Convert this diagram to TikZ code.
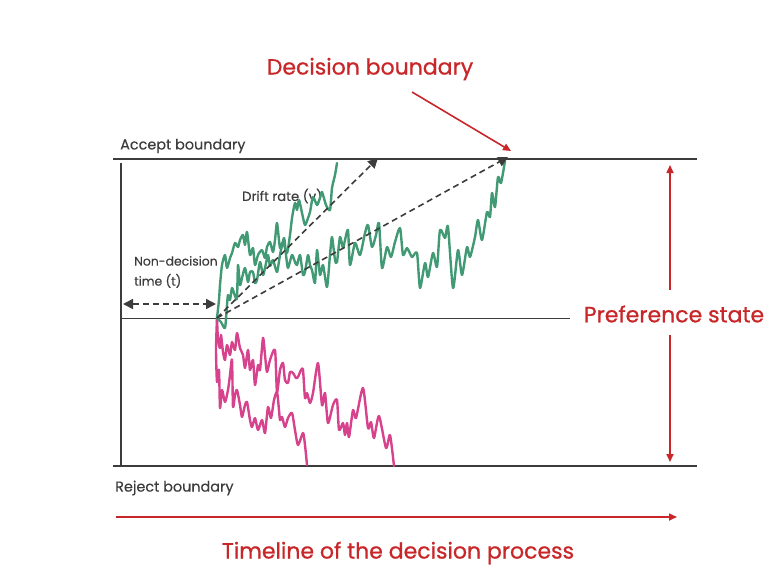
\documentclass[tikz,border=0pt]{standalone}
\usepackage{fontspec}
\setmainfont{Poppins}
\newfontfamily\headfont{Poppins}[FakeBold=0.8]
\newfontfamily\labelfont{Poppins}[FakeBold=0.3]
\usetikzlibrary{arrows.meta}
\definecolor{boundgray}{RGB}{60,60,60}
\definecolor{walkgreen}{RGB}{66,154,116}
\definecolor{walkpink}{RGB}{214,66,140}
\definecolor{notered}{RGB}{200,38,40}
\tikzset{
  boundary/.style={line width=2.2pt, draw=boundgray},
  walk/.style={line width=2.4pt, line join=round, line cap=round},
  drift/.style={dash pattern=on 6pt off 4pt, line width=1.6pt, draw=boundgray,
    -{Triangle[length=10pt,width=10pt]}},
  redarrow/.style={draw=notered, line width=1.6pt, -{Triangle[length=8pt,width=7pt]}},
  smalltext/.style={text=boundgray, inner sep=0pt, font=\labelfont\fontsize{14.4}{16}\selectfont},
  bigtext/.style={text=notered, inner sep=0pt, font=\headfont\fontsize{22}{26}\selectfont},
}
\begin{document}
\begin{tikzpicture}[x=1pt, y=-1pt]
\useasboundingbox (0,0) rectangle (776,582);

\coordinate (acceptL) at (113,159);
\coordinate (acceptR) at (697,159);
\coordinate (rejectL) at (113,466);
\coordinate (rejectR) at (697,466);
\coordinate (axisTop) at (121,163);
\coordinate (axisBot) at (121,466);
\coordinate (midL) at (121,318);
\coordinate (midR) at (570,318);
\coordinate (t0) at (217,318);
\coordinate (ndL) at (123,304);
\coordinate (ndR) at (216,304);
\coordinate (hitFast) at (378,158);
\coordinate (hitSlow) at (508,157);

\draw [boundary] (acceptL) -- (acceptR);
\draw [boundary] (rejectL) -- (rejectR);
\draw [line width=1.8pt, boundgray] (axisTop) -- (axisBot);
\draw [line width=0.8pt, boundgray] (midL) -- (midR);

\node (accept) [smalltext, anchor=west] at (120,146) {Accept boundary};
\node (reject) [smalltext, anchor=west] at (115,488) {Reject boundary};
\node (driftlbl) [smalltext, anchor=west, font=\labelfont\fontsize{13.2}{15}\selectfont] at (242,196) {Drift rate (v)};
\node (nondec) [smalltext, anchor=west, align=left, font=\labelfont\fontsize{12.4}{20}\selectfont] at (134,272) {Non-decision\\time (t)};

\draw [walk, walkpink] plot [smooth, tension=0.4] coordinates {
  (217,318) (218,340) (220,348) (221,335) (223,352) (225,360) (227,345) (230,355)
  (232,342) (235,350) (237,333) (240,348) (243,355) (245,368) (248,350) (250,370)
  (253,360) (255,385) (258,365) (260,370) (263,338) (265,355) (267,372) (270,360)
  (275,350) (277,392) (280,370) (283,363) (285,380) (288,383) (290,372) (293,373)
  (296,378) (298,377) (301,370) (303,370) (305,398) (307,393) (310,403) (313,393)
  (318,363) (322,405) (325,393) (328,423) (333,405) (337,400) (339,430) (343,423)
  (345,435) (347,423) (349,437) (353,410) (356,418) (363,388) (368,428) (371,422)
  (374,438) (379,416) (386,448) (390,435) (394,466)};
\draw [walk, walkpink] plot [smooth, tension=0.4] coordinates {
  (217,318) (216,350) (217,382) (219,370) (220,408) (222,390) (225,402) (228,390)
  (230,375) (232,360) (233,407) (235,395) (237,390) (240,405) (242,417) (245,405)
  (247,402) (250,420) (252,427) (255,418) (258,430) (262,420) (265,433) (268,407)
  (271,418) (274,400) (277,392) (279,410) (280,420) (282,417) (285,427) (288,418)
  (292,413) (295,430) (298,445) (303,433) (305,445) (307,465)};

\draw [walk, walkgreen] plot [smooth, tension=0.4] coordinates {
  (217,318) (221,322) (225,328) (227,305) (228,295) (230,300) (232,288) (235,296)
  (237,298) (238,265) (240,285) (242,278) (245,268) (248,282) (250,272) (253,272)
  (255,283) (257,280) (260,262) (263,275) (265,268) (268,255) (270,266) (273,260)
  (277,272) (280,255) (284,238) (286,255) (288,268) (292,255) (295,262) (297,265)
  (300,255) (303,275) (305,272) (308,255) (310,265) (312,270) (315,283) (317,250)
  (320,275) (323,265) (327,287) (330,255) (332,237) (335,260) (337,262) (340,237)
  (343,248) (345,240) (348,230) (350,265) (355,243) (360,255) (365,233) (368,225)
  (372,247) (376,235) (379,223) (382,268) (387,247) (391,257) (395,242) (400,228)
  (403,255) (407,248) (412,257) (417,253) (420,288) (425,263) (428,277) (433,253)
  (437,267) (440,230) (445,238) (448,227) (453,288) (458,250) (462,275) (467,247)
  (470,257) (475,237) (478,220) (482,240) (487,212) (490,217) (492,193) (495,207)
  (498,177) (501,183) (505,161)};
\draw [walk, walkgreen] plot [smooth, tension=0.4] coordinates {
  (217,318) (219,300) (220,285) (222,265) (225,255) (227,268) (230,258) (232,253)
  (235,243) (238,247) (240,240) (243,235) (245,245) (247,232) (250,255) (253,248)
  (255,265) (258,255) (262,250) (265,258) (267,247) (270,242) (273,252) (275,240)
  (277,223) (280,248) (283,242) (287,253) (290,235) (292,218) (295,203) (297,210)
  (299,200) (302,213) (305,225) (308,218) (310,212) (313,197) (317,205) (320,198)
  (322,192) (326,205) (330,210) (332,188) (335,175) (337,163)};

\draw [drift] (t0) -- (hitFast);
\draw [drift] (t0) -- (hitSlow);
\draw [drift, {Triangle[length=10pt,width=10pt]}-{Triangle[length=10pt,width=10pt]}] (ndL) -- (ndR);

\node (decision) [bigtext] at (370,69) {Decision boundary};
\coordinate (decFrom) at (412,92);
\coordinate (decTo) at (511,151);
\draw [redarrow] (decFrom) -- (decTo);

\node (pref) [bigtext] at (674,314) {Preference state};
\coordinate (prefUp) at (670,290);
\coordinate (prefTop) at (670,165);
\coordinate (prefDown) at (670,335);
\coordinate (prefBot) at (670,462);
\draw [redarrow] (prefUp) -- (prefTop);
\draw [redarrow] (prefDown) -- (prefBot);

\coordinate (timeL) at (116,517);
\coordinate (timeR) at (677,517);
\draw [redarrow] (timeL) -- (timeR);
\node (timeline) [bigtext] at (398,553) {Timeline of the decision process};
\end{tikzpicture}
\end{document}
